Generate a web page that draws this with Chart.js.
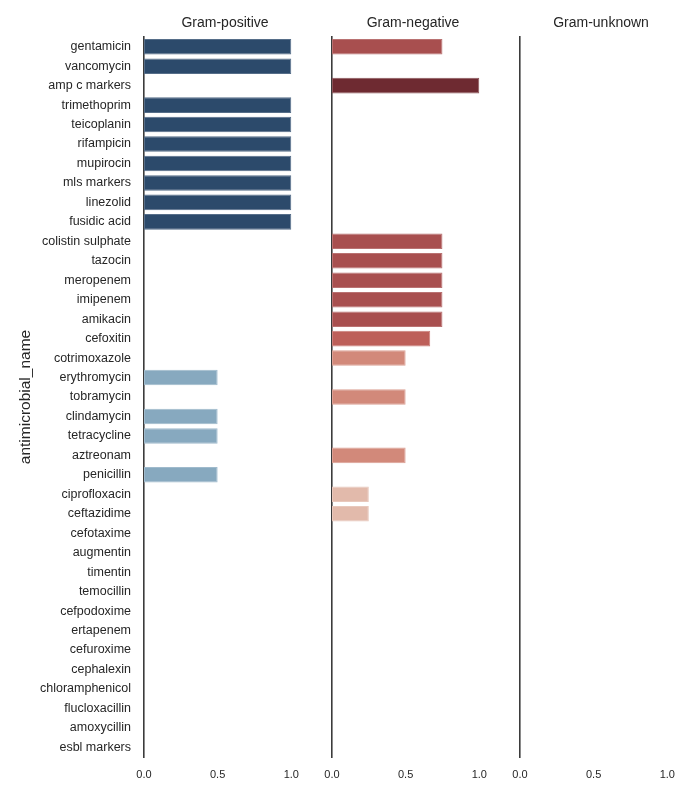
<!DOCTYPE html>
<html>
<head>
<meta charset="utf-8">
<script src="https://cdn.jsdelivr.net/npm/chart.js@4"></script>
<style>
  body { margin: 0; background: #fff; }
  #wrap { position: relative; width: 700px; height: 800px; }
  #wrap canvas { position: absolute; left: 0; top: 0; }
</style>
</head>
<body>
<div id="wrap">
  <canvas id="chartPos" width="700" height="800"></canvas>
  <canvas id="chartNeg" width="700" height="800"></canvas>
  <canvas id="chartUnk" width="700" height="800"></canvas>
</div>
<script>
const antimicrobials = ['gentamicin', 'vancomycin', 'amp c markers', 'trimethoprim', 'teicoplanin', 'rifampicin',
    'mupirocin', 'mls markers', 'linezolid', 'fusidic acid', 'colistin sulphate', 'tazocin', 'meropenem',
    'imipenem', 'amikacin', 'cefoxitin', 'cotrimoxazole', 'erythromycin', 'tobramycin', 'clindamycin',
    'tetracycline', 'aztreonam', 'penicillin', 'ciprofloxacin', 'ceftazidime', 'cefotaxime', 'augmentin',
    'timentin', 'temocillin', 'cefpodoxime', 'ertapenem', 'cefuroxime', 'cephalexin', 'chloramphenicol',
    'flucloxacillin', 'amoxycillin', 'esbl markers'];

const gramPositive = [1, 1, null, 1, 1, 1, 1, 1, 1, 1, null, null, null, null, null, null, null, 0.5, null, 0.5,
    0.5, null, 0.5, null, null, null, null, null, null, null, null, null, null, null, null, null, null];
const gramNegative = [0.75, null, 1, null, null, null, null, null, null, null, 0.75, 0.75, 0.75, 0.75, 0.75, 0.667,
    0.5, null, 0.5, null, null, 0.5, null, 0.25, 0.25, null, null, null, null, null, null, null, null, null, null, null, null];
const gramUnknown = antimicrobials.map(() => null);

const xTicks = [0, 0.5, 1.0];

document.addEventListener('DOMContentLoaded', function () {
    const FONT = "'Liberation Sans', Arial, sans-serif";
    const TEXT = '#262626';

    // colours by value, like the seaborn palette
    function blueFor(v) {
        return v >= 0.9 ? '#2c4a6b' : '#87a9bf';
    }
    function redFor(v) {
        if (v >= 0.9) return '#6e2a31';
        if (v >= 0.7) return '#a84f4f';
        if (v >= 0.6) return '#bd5f59';
        if (v >= 0.4) return '#d2897a';
        return '#e2baab';
    }
    function lighten(hex) {
        const n = parseInt(hex.slice(1), 16);
        const r = (n >> 16) & 255, g = (n >> 8) & 255, b = n & 255;
        const m = c => Math.round(c + (255 - c) * 0.2);
        return 'rgb(' + m(r) + ',' + m(g) + ',' + m(b) + ')';
    }

    // panel title drawn above each chart area
    const panelTitle = {
        id: 'panelTitle',
        afterDraw(chart, args, opts) {
            const { ctx, chartArea } = chart;
            ctx.save();
            ctx.font = '14px ' + FONT;
            ctx.fillStyle = TEXT;
            ctx.textAlign = 'center';
            ctx.textBaseline = 'middle';
            ctx.fillText(opts.text, (chartArea.left + chartArea.right) / 2, 23);
            ctx.restore();
        }
    };

    function makeChart(id, values, colorFn, title, left, right, showLabels) {
        const colors = values.map(v => v == null ? 'rgba(0,0,0,0)' : colorFn(v));
        return new Chart(document.getElementById(id).getContext('2d'), {
            type: 'bar',
            data: {
                labels: antimicrobials,
                datasets: [{
                    data: values,
                    backgroundColor: colors,
                    borderColor: colors.map(c => c.startsWith('#') ? lighten(c) : c),
                    borderWidth: 1,
                    borderSkipped: false,
                    categoryPercentage: 0.8,
                    barPercentage: 1.0
                }]
            },
            options: {
                indexAxis: 'y',
                responsive: false,
                animation: false,
                layout: { padding: { left: left, right: 700 - right, top: 37, bottom: 0 } },
                scales: {
                    x: {
                        min: 0,
                        max: 1.1,
                        grid: { display: false, drawTicks: false },
                        border: { display: false },
                        afterBuildTicks: function (scale) {
                            scale.ticks = xTicks.map(v => ({ value: v }));
                        },
                        afterFit: function (scale) { scale.height = 43; },
                        ticks: {
                            padding: 11,
                            color: TEXT,
                            font: { family: FONT, size: 11 },
                            maxRotation: 0,
                            callback: function (value) { return Number(value).toFixed(1); }
                        }
                    },
                    y: {
                        grid: { display: false, drawTicks: false },
                        border: { display: true, color: '#3b3b3b', width: 1.6 },
                        afterFit: function (scale) { scale.width = showLabels ? 144 : 0; },
                        ticks: {
                            display: showLabels,
                            padding: 13,
                            color: TEXT,
                            font: { family: FONT, size: 12.5 },
                            autoSkip: false
                        },
                        title: {
                            display: showLabels,
                            text: 'antimicrobial_name',
                            color: TEXT,
                            font: { family: FONT, size: 15.5 },
                            padding: { top: 16, bottom: 0 }
                        }
                    }
                },
                plugins: {
                    legend: { display: false },
                    tooltip: { enabled: false },
                    panelTitle: { text: title }
                }
            },
            plugins: [panelTitle]
        });
    }

    makeChart('chartPos', gramPositive, blueFor, 'Gram-positive', 0, 306, true);
    makeChart('chartNeg', gramNegative, redFor, 'Gram-negative', 332, 494, false);
    makeChart('chartUnk', gramUnknown, redFor, 'Gram-unknown', 520, 682, false);
});
</script>
</body>
</html>
